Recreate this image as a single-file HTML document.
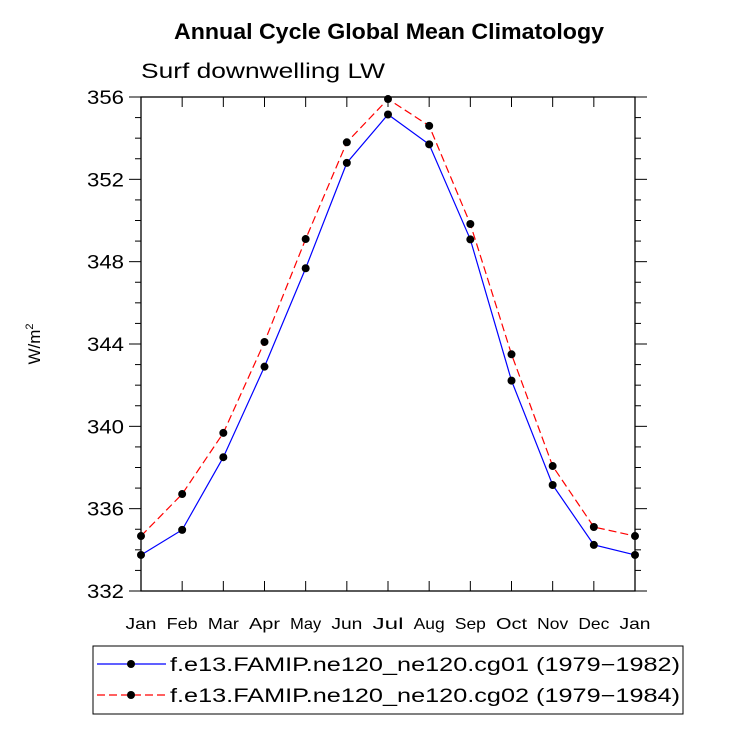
<!DOCTYPE html>
<html><head><meta charset="utf-8"><style>
body{margin:0;background:#fff;}
svg text{font-family:"Liberation Sans",sans-serif;}
</style></head><body>
<svg id="chart" width="733" height="734" xmlns="http://www.w3.org/2000/svg">
<text x="389" y="39" text-anchor="middle" font-size="22" font-weight="bold" textLength="430" lengthAdjust="spacingAndGlyphs">Annual Cycle Global Mean Climatology</text>
<text x="141" y="78" font-size="21" textLength="244" lengthAdjust="spacingAndGlyphs">Surf downwelling LW</text>
<text transform="translate(40,344) rotate(-90)" text-anchor="middle" font-size="17">W/m<tspan font-size="11" dy="-7">2</tspan></text>
<g id="axes"></g>
<g id="series"></g>
<rect x="93" y="646" width="590" height="68" fill="none" stroke="#000" stroke-width="1"/>
<g>
<line x1="97" y1="664" x2="166" y2="664" stroke="#00f" stroke-width="1.2"/><circle cx="131" cy="664" r="4" fill="#000"/>
<text x="170" y="671" font-size="19" textLength="510" lengthAdjust="spacingAndGlyphs">f.e13.FAMIP.ne120_ne120.cg01 (1979−1982)</text></g>
<g>
<line x1="97" y1="695" x2="166" y2="695" stroke="#f00" stroke-width="1.2" stroke-dasharray="8,4"/><circle cx="131" cy="695" r="4" fill="#000"/>
<text x="170" y="702" font-size="19" textLength="510" lengthAdjust="spacingAndGlyphs">f.e13.FAMIP.ne120_ne120.cg02 (1979−1984)</text></g>
</svg>
<script>
const months=["Jan","Feb","Mar","Apr","May","Jun","Jul","Aug","Sep","Oct","Nov","Dec","Jan"];
const cg01=[333.75,334.97,338.5,342.9,347.68,352.8,355.15,353.7,349.08,342.22,337.15,334.24,333.75];
const cg02=[334.67,336.71,339.68,344.1,349.1,353.8,355.9,354.6,349.83,343.5,338.07,335.11,334.67];
const yTicks=[332,336,340,344,348,352,356];
const NS="http://www.w3.org/2000/svg";
const L=141,R=635,T=97,B=591,ymin=332,ymax=356;
const xs=i=>L+(R-L)*i/(months.length-1);
const ys=v=>B-(B-T)*(v-ymin)/(ymax-ymin);
function mk(tag,attrs,parent){const e=document.createElementNS(NS,tag);for(const k in attrs)e.setAttribute(k,attrs[k]);parent.appendChild(e);return e;}
const ax=document.getElementById('axes');
const frame=mk('rect',{x:L,y:T,width:R-L,height:B-T,fill:'none',stroke:'#000','stroke-width':1.3},ax);


for(let v=ymin;v<=ymax;v++){const major=(v-ymin)%4===0;const len=major?12:6;const y=ys(v);
mk('line',{x1:L-len,y1:y,x2:L,y2:y,stroke:'#000'},ax);
mk('line',{x1:R,y1:y,x2:R+len,y2:y,stroke:'#000'},ax);}
yTicks.forEach(v=>{const t=mk('text',{x:L-17,y:ys(v)+7,'text-anchor':'end','font-size':19,'textLength':37,'lengthAdjust':'spacingAndGlyphs'},ax);t.textContent=v;

});
months.forEach((m,i)=>{const x=xs(i);
mk('line',{x1:x,y1:B,x2:x,y2:B-10,stroke:'#000'},ax);
mk('line',{x1:x,y1:T,x2:x,y2:T+10,stroke:'#000'},ax);
const t=mk('text',{x:x,y:B+38,'text-anchor':'middle','font-size':16,'textLength':31,'lengthAdjust':'spacingAndGlyphs'},ax);t.textContent=m;

});
const sg=document.getElementById('series');
[[cg01,'#00f',''],[cg02,'#f00','8,4']].forEach(([d,c,dash],k)=>{
const p=mk('polyline',{points:d.map((v,i)=>xs(i)+','+ys(v)).join(' '),fill:'none',stroke:c,'stroke-width':1.2,'stroke-dasharray':dash},sg);


d.forEach((v,i)=>{const c2=mk('circle',{cx:xs(i),cy:ys(v),r:4,fill:'#000'},sg);

});});
</script>
</body></html>
